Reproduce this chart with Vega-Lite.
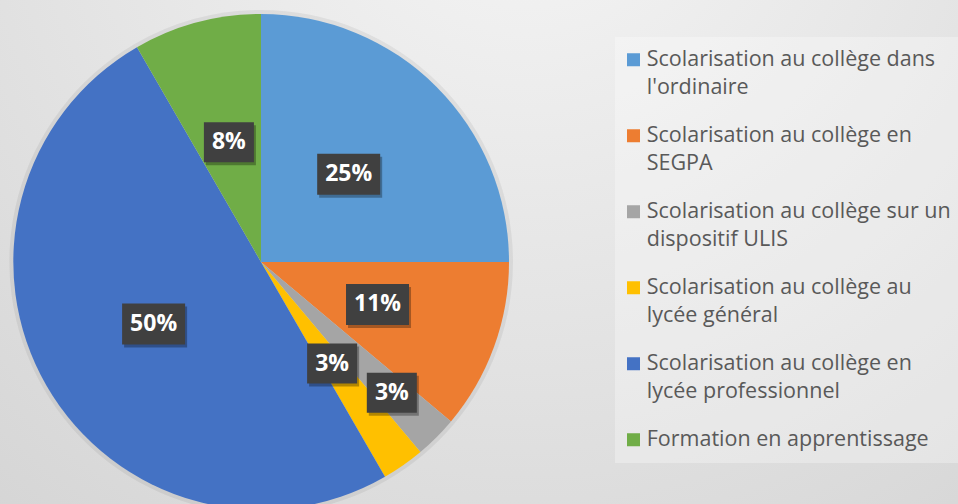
{
  "$schema": "https://vega.github.io/schema/vega-lite/v6.json",
  "width": 958,
  "height": 504,
  "autosize": "none",
  "padding": 0,
  "background": "#e2e2e2",
  "view": {
    "stroke": null,
    "fill": {
      "gradient": "radial",
      "x1": 0.55, "y1": 0.08, "r1": 0,
      "x2": 0.55, "y2": 0.08, "r2": 0.95,
      "stops": [
        {"offset": 0, "color": "#f6f6f6"},
        {"offset": 1, "color": "#d3d3d3"}
      ]
    }
  },
  "config": {
    "style": {"guide-label": {"lineHeight": 28}}
  },
  "data": {
    "values": [
      {"idx": 1, "category": "Scolarisation au collège dans l'ordinaire", "value": 9, "label": "25%"},
      {"idx": 2, "category": "Scolarisation au collège en SEGPA", "value": 4, "label": "11%"},
      {"idx": 3, "category": "Scolarisation au collège sur un dispositif ULIS", "value": 1, "label": "3%"},
      {"idx": 4, "category": "Scolarisation au collège au lycée général", "value": 1, "label": "3%"},
      {"idx": 5, "category": "Scolarisation au collège en lycée professionnel", "value": 18, "label": "50%"},
      {"idx": 6, "category": "Formation en apprentissage", "value": 3, "label": "8%"}
    ]
  },
  "transform": [
    {"joinaggregate": [{"op": "sum", "field": "value", "as": "total"}]},
    {"window": [{"op": "sum", "field": "value", "as": "cum"}], "sort": [{"field": "idx", "order": "ascending"}], "frame": [null, 0]},
    {"calculate": "(datum.cum - datum.value / 2) / datum.total * 2 * PI", "as": "mid"},
    {"calculate": "datum.idx == 3 ? 185 : 124", "as": "lr"},
    {"calculate": "datum.lr * sin(datum.mid)", "as": "lx"},
    {"calculate": "datum.lr * cos(datum.mid)", "as": "ly"},
    {"calculate": "length(datum.label)", "as": "len"}
  ],
  "layer": [
    {
      "mark": {"type": "arc", "outerRadius": 252, "color": "#000000", "opacity": 0.06},
      "encoding": {
        "theta": {"field": "value", "type": "quantitative", "stack": true},
        "order": {"field": "idx", "type": "quantitative", "sort": "ascending"},
        "x": {"datum": 0, "type": "quantitative", "scale": {"domain": [-261, 697], "nice": false, "zero": false}, "axis": null},
        "y": {"datum": 0, "type": "quantitative", "scale": {"domain": [-242, 262], "nice": false, "zero": false}, "axis": null}
      }
    },
    {
      "mark": {"type": "arc", "outerRadius": 248},
      "encoding": {
        "theta": {"field": "value", "type": "quantitative", "stack": true},
        "order": {"field": "idx", "type": "quantitative", "sort": "ascending"},
        "x": {"datum": 0, "type": "quantitative", "scale": {"domain": [-261, 697], "nice": false, "zero": false}, "axis": null},
        "y": {"datum": 0, "type": "quantitative", "scale": {"domain": [-242, 262], "nice": false, "zero": false}, "axis": null},
        "color": {
          "field": "category",
          "type": "nominal",
          "scale": {
            "domain": [
              "Scolarisation au collège dans l'ordinaire",
              "Scolarisation au collège en SEGPA",
              "Scolarisation au collège sur un dispositif ULIS",
              "Scolarisation au collège au lycée général",
              "Scolarisation au collège en lycée professionnel",
              "Formation en apprentissage"
            ],
            "range": ["#5b9bd5", "#ed7d31", "#a5a5a5", "#ffc000", "#4472c4", "#70ad47"]
          },
          "legend": {
            "orient": "none",
            "legendX": 615,
            "legendY": 37,
            "title": null,
            "symbolType": "square",
            "symbolSize": 169,
            "symbolStrokeWidth": 0,
            "symbolOffset": -4.25,
            "labelFont": "Open Sans",
            "labelFontSize": 21.5,
            "labelColor": "#595959",
            "labelBaseline": "middle",
            "labelLimit": 500,
            "labelOffset": 2.5,
            "rowPadding": 25,
            "padding": 12,
            "fillColor": "rgba(255,255,255,0.3)",
            "labelExpr": "split(replace(datum.label, regexp('^(Scolarisation au collège (sur un|[a-z]+)) '), '$1|'), '|')"
          }
        }
      }
    },
    {
      "mark": {"type": "point", "filled": true, "color": "#000000", "opacity": 0.3, "strokeWidth": 0, "xOffset": 2, "yOffset": 3},
      "encoding": {
        "x": {"field": "lx", "type": "quantitative", "scale": {"domain": [-261, 697], "nice": false, "zero": false}, "axis": null},
        "y": {"field": "ly", "type": "quantitative", "scale": {"domain": [-242, 262], "nice": false, "zero": false}, "axis": null},
        "shape": {
          "field": "len",
          "type": "nominal",
          "scale": {
            "domain": [2, 3],
            "range": ["M-0.794,-0.635L0.794,-0.635L0.794,0.635L-0.794,0.635Z", "M-1,-0.651L1,-0.651L1,0.651L-1,0.651Z"]
          },
          "legend": null
        },
        "size": {"value": 3969}
      }
    },
    {
      "mark": {"type": "point", "filled": true, "color": "#404040", "opacity": 1, "strokeWidth": 0},
      "encoding": {
        "x": {"field": "lx", "type": "quantitative", "scale": {"domain": [-261, 697], "nice": false, "zero": false}, "axis": null},
        "y": {"field": "ly", "type": "quantitative", "scale": {"domain": [-242, 262], "nice": false, "zero": false}, "axis": null},
        "shape": {
          "field": "len",
          "type": "nominal",
          "scale": {
            "domain": [2, 3],
            "range": ["M-0.794,-0.635L0.794,-0.635L0.794,0.635L-0.794,0.635Z", "M-1,-0.651L1,-0.651L1,0.651L-1,0.651Z"]
          },
          "legend": null
        },
        "size": {"value": 3969}
      }
    },
    {
      "mark": {"type": "text", "color": "#ffffff", "font": "Open Sans", "fontWeight": "bold", "fontSize": 23, "align": "center", "baseline": "middle"},
      "encoding": {
        "x": {"field": "lx", "type": "quantitative", "scale": {"domain": [-261, 697], "nice": false, "zero": false}, "axis": null},
        "y": {"field": "ly", "type": "quantitative", "scale": {"domain": [-242, 262], "nice": false, "zero": false}, "axis": null},
        "text": {"field": "label", "type": "nominal"}
      }
    }
  ]
}
